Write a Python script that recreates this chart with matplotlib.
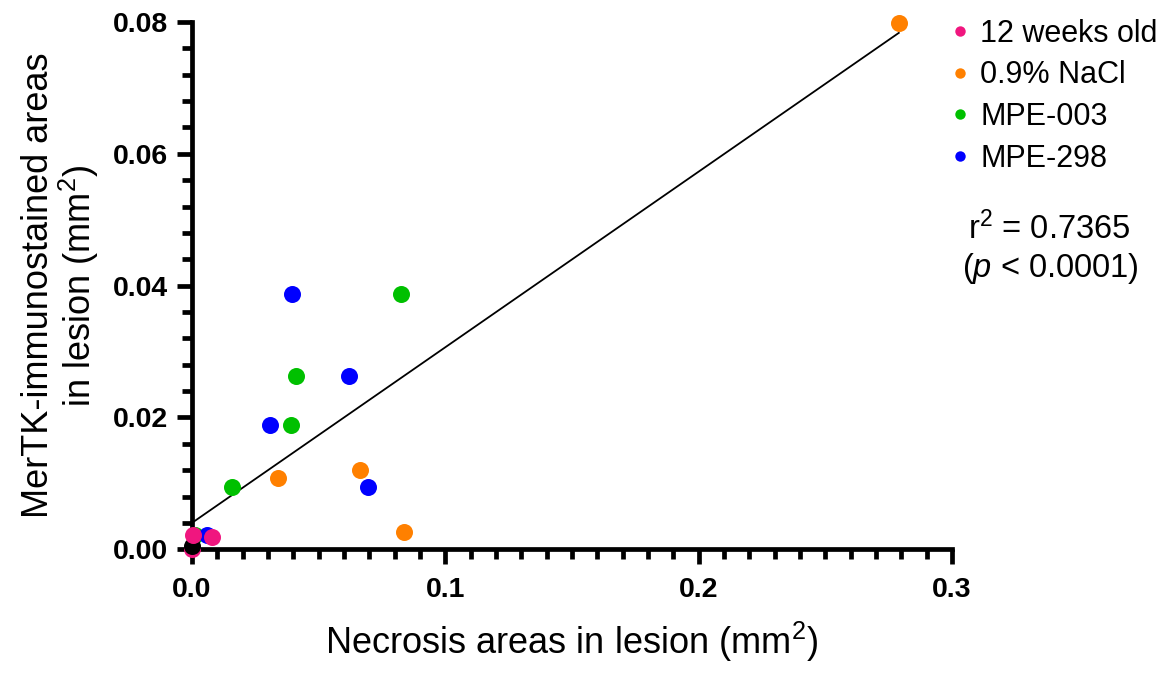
import numpy as np
import matplotlib
matplotlib.use("Agg")
import matplotlib.pyplot as plt
from matplotlib.lines import Line2D

plt.rcParams['font.family'] = ['Liberation Sans', 'DejaVu Sans']
plt.rcParams['mathtext.fontset'] = 'custom'
plt.rcParams['mathtext.rm'] = 'Liberation Sans'
plt.rcParams['mathtext.it'] = 'Liberation Sans:italic'
plt.rcParams['mathtext.bf'] = 'Liberation Sans:bold'

# data (necrosis area, MerTK area), mm^2
weeks12_x = [0.0005, 0.0079, 0.0]
weeks12_y = [0.0022, 0.0018, 0.0]
nacl_x = [0.0339, 0.0665, 0.0835, 0.2790]
nacl_y = [0.0108, 0.0120, 0.0026, 0.0799]
mpe003_x = [0.0010, 0.0158, 0.0391, 0.0410, 0.0826]
mpe003_y = [0.0022, 0.0095, 0.0189, 0.0263, 0.0387]
mpe298_x = [0.0060, 0.0307, 0.0396, 0.0621, 0.0694]
mpe298_y = [0.0022, 0.0189, 0.0387, 0.0263, 0.0095]
other_x = [0.0]
other_y = [0.0005]

groups = ["12 weeks old", "0.9% NaCl", "MPE-003", "MPE-298"]
colors = ["#F0167F", "#FF8000", "#00C000", "#0000FF"]

fig = plt.figure(figsize=(11.67, 6.73), dpi=100)
ax = fig.add_axes([192 / 1167, 0.1838, 760 / 1167, 0.7835])

all_x = np.array(weeks12_x + nacl_x + mpe003_x + mpe298_x + other_x)
all_y = np.array(weeks12_y + nacl_y + mpe003_y + mpe298_y + other_y)
slope, intercept = np.polyfit(all_x, all_y, 1)
xl = np.array([0.0, all_x.max()])
ax.plot(xl, intercept + slope * xl, color='black', lw=1.3, zorder=2)

ax.scatter(weeks12_x[2:], weeks12_y[2:], s=150, color=colors[0], zorder=3, clip_on=False, lw=0)
ax.scatter(other_x, other_y, s=150, color='black', zorder=4, clip_on=False, lw=0)
ax.scatter(nacl_x, nacl_y, s=150, color=colors[1], zorder=3, clip_on=False, lw=0)
ax.scatter(mpe003_x, mpe003_y, s=150, color=colors[2], zorder=3, clip_on=False, lw=0)
ax.scatter(mpe298_x, mpe298_y, s=150, color=colors[3], zorder=3, clip_on=False, lw=0)
ax.scatter(weeks12_x[:2], weeks12_y[:2], s=150, color=colors[0], zorder=5, clip_on=False, lw=0)

ax.set_xlim(0, 0.3)
ax.set_ylim(0, 0.08)
ax.set_xticks([0.0, 0.1, 0.2, 0.3])
ax.set_xticklabels(["0.0", "0.1", "0.2", "0.3"])
ax.set_xticks(np.arange(0, 0.3001, 0.01), minor=True)
ax.set_yticks([0.0, 0.02, 0.04, 0.06, 0.08])
ax.set_yticklabels(["0.00", "0.02", "0.04", "0.06", "0.08"])
ax.set_yticks(np.arange(0, 0.0801, 0.004), minor=True)

for s in ['top', 'right']:
    ax.spines[s].set_visible(False)
for s in ['left', 'bottom']:
    ax.spines[s].set_linewidth(3.4)
    ax.spines[s].set_capstyle('projecting')
ax.tick_params(which='major', length=11, width=3.4, pad=6, labelsize=20.5, direction='out')
ax.tick_params(axis='x', which='major', pad=9)
ax.tick_params(which='minor', length=7, width=3.4, direction='out')
for lab in ax.get_xticklabels() + ax.get_yticklabels():
    lab.set_fontweight('bold')

ax.set_xlabel("Necrosis areas in lesion (mm$^2$)", fontsize=26, labelpad=12)
fig.text(61 / 1167, 0.5755, "MerTK-immunostained areas\nin lesion (mm$^2$)", fontsize=26,
         rotation=90, ha='center', va='center', multialignment='center', linespacing=1.02)

handles = [Line2D([], [], ls='none', marker='o', markersize=7.5, color=c, markeredgewidth=0)
           for c in colors]
fig.legend(handles, groups, loc='upper left', bbox_to_anchor=(922 / 1167, 1.0 + 1 / 673),
           frameon=False, fontsize=22, handletextpad=0.05, labelspacing=0.38,
           borderaxespad=0.25, handlelength=1.2)

fig.text(1049 / 1167, (673 - 229) / 673, "r$^2$ = 0.7365", fontsize=23.5, ha='center', va='center')
fig.text(1050 / 1167, (673 - 268) / 673, "($p$ < 0.0001)", fontsize=23.5, ha='center', va='center')

fig.savefig("out.png", dpi=100)
